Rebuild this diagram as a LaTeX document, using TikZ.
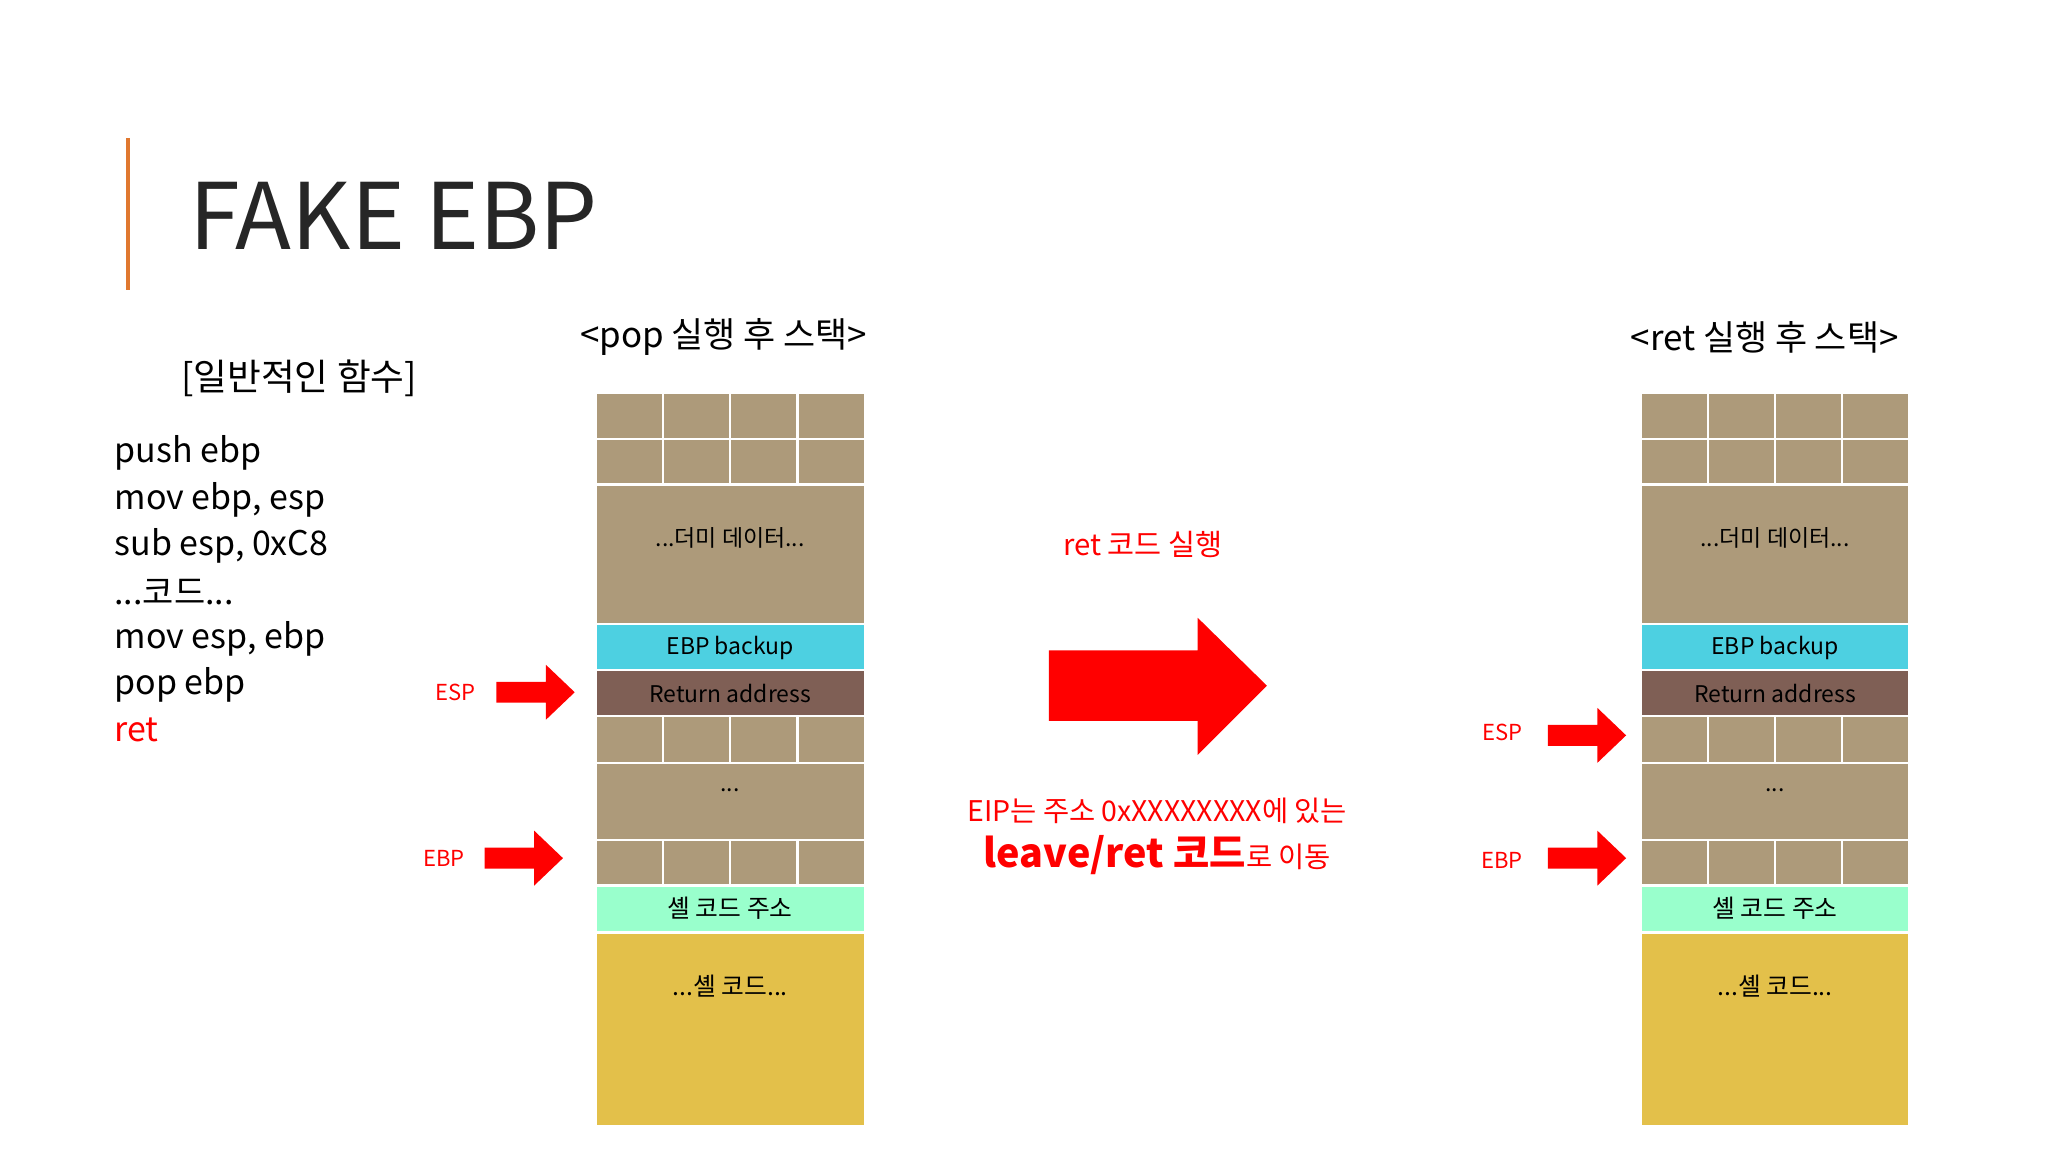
\documentclass[tikz,border=0pt]{standalone}
\usepackage{fontspec}
\setmainfont{Noto Sans CJK KR}
\definecolor{brick}{HTML}{AD9A7A}
\definecolor{cyanb}{HTML}{4DD0E1}
\definecolor{retb}{HTML}{7F5F55}
\definecolor{mint}{HTML}{99FFCC}
\definecolor{shell}{HTML}{E3C04A}
\definecolor{orline}{HTML}{E0782F}
\tikzset{
  lbl/.style={font=\fontsize{5}{6}\selectfont,inner sep=0pt},
  code/.style={anchor=west,inner sep=0pt,font=\fontsize{7.4}{9}\selectfont},
  redl/.style={text=red,font=\fontsize{4.8}{6}\selectfont,inner sep=0pt}
}
\newcommand{\myrow}[3]{%
  \foreach \i in {0,1,2,3}{
    \fill[brick,draw=white,line width=0.5pt] ({(#1+\i*51.5)/100},{(882-#2)/100}) rectangle ({(#1+(\i+1)*51.5)/100},{(882-#3)/100});
  }}
\newcommand{\myblock}[4]{%
  \fill[#4,draw=white,line width=0.5pt] ({#1/100},{(882-#2)/100}) rectangle ({(#1+206)/100},{(882-#3)/100});}
\newcommand{\mystack}[2]{%
  \myrow{#1}{301}{336}
  \myrow{#1}{336}{371}
  \myblock{#1}{371}{478}{brick}
  \node[lbl] (#2d) at ({(#1+103)/100},{(882-412)/100}) {...더미 데이터...};
  \myblock{#1}{478}{513}{cyanb}
  \node[lbl] (#2e) at ({(#1+103)/100},{(882-496)/100}) {EBP backup};
  \myblock{#1}{513}{548}{retb}
  \node[lbl] (#2r) at ({(#1+103)/100},{(882-531)/100}) {Return address};
  \myrow{#1}{548}{584}
  \myblock{#1}{584}{643}{brick}
  \node[lbl] (#2m) at ({(#1+103)/100},{(882-605)/100}) {...};
  \myrow{#1}{643}{678}
  \myblock{#1}{678}{714}{mint}
  \node[lbl,font=\fontsize{5.4}{6}\selectfont] (#2s) at ({(#1+103)/100},{(882-695)/100}) {셸 코드 주소};
  \myblock{#1}{714}{862}{shell}
  \node[lbl,font=\fontsize{5.4}{6}\selectfont] (#2c) at ({(#1+103)/100},{(882-755)/100}) {...셸 코드...};
}
\newcommand{\myarrow}[3]{%
  \fill[red] ({#1/100},{(882-#3-8)/100}) -- ({(#2-22)/100},{(882-#3-8)/100}) -- ({(#2-22)/100},{(882-#3-21)/100}) -- ({#2/100},{(882-#3)/100}) -- ({(#2-22)/100},{(882-#3+21)/100}) -- ({(#2-22)/100},{(882-#3+8)/100}) -- ({#1/100},{(882-#3+8)/100}) -- cycle;}
\begin{document}
\begin{tikzpicture}
\useasboundingbox (0,0) rectangle (15.68,8.82);
\fill[white] (0,0) rectangle (15.68,8.82);
\draw[orline,line width=1pt] (0.98,{(882-106)/100}) -- (0.98,{(882-222)/100});
\node[anchor=west,inner sep=0pt,font=\fontsize{20}{24}\selectfont,text=black!85] (title) at (1.44,{(882-165)/100}) {FAKE EBP};
\node[inner sep=0pt,font=\fontsize{8}{9}\selectfont] (hd) at (2.29,{(882-290)/100}) {[일반적인 함수]};
\node[code] (c1) at (0.87,{(882-347)/100}) {push ebp};
\node[code] (c2) at (0.87,{(882-383)/100}) {mov ebp, esp};
\node[code] (c3) at (0.87,{(882-418)/100}) {sub esp, 0xC8};
\node[code] (c4) at (0.87,{(882-453)/100}) {...코드...};
\node[code] (c5) at (0.87,{(882-489)/100}) {mov esp, ebp};
\node[code] (c6) at (0.87,{(882-524)/100}) {pop ebp};
\node[code,text=red] (c7) at (0.87,{(882-559)/100}) {ret};
\node[inner sep=0pt,font=\fontsize{7.6}{9}\selectfont] (h1) at (5.54,{(882-258)/100}) {<pop 실행 후 스택>};
\node[inner sep=0pt,font=\fontsize{7.6}{9}\selectfont] (h2) at (13.51,{(882-258)/100}) {<ret 실행 후 스택>};
\mystack{456}{a}
\mystack{1256}{b}
\node[redl] (esp1) at (3.49,{(882-530)/100}) {ESP};
\node[redl] (ebp1) at (3.40,{(882-657)/100}) {EBP};
\node[redl] (esp2) at (11.50,{(882-561)/100}) {ESP};
\node[redl] (ebp2) at (11.50,{(882-659)/100}) {EBP};
\myarrow{380}{440}{530}
\myarrow{371}{431}{657}
\myarrow{1185}{1245}{563}
\myarrow{1185}{1245}{657}
\fill[red] (8.03,{(882-498)/100}) -- (9.17,{(882-498)/100}) -- (9.17,{(882-473)/100}) -- (9.70,{(882-525)/100}) -- (9.17,{(882-578)/100}) -- (9.17,{(882-552)/100}) -- (8.03,{(882-552)/100}) -- cycle;
\node[text=red,inner sep=0pt,font=\fontsize{6.4}{8}\selectfont] (rc) at (8.75,{(882-417)/100}) {ret 코드 실행};
\node[text=red,inner sep=0pt,font=\fontsize{6.2}{8}\selectfont] (eip) at (8.86,{(882-621)/100}) {EIP는 주소 0xXXXXXXXX에 있는};
\node[text=red,inner sep=0pt,font=\fontsize{6.2}{8}\selectfont] (lv) at (8.86,{(882-655)/100}) {{\fontsize{8.6}{10}\selectfont\bfseries leave/ret 코드}로 이동};
\end{tikzpicture}
\end{document}
